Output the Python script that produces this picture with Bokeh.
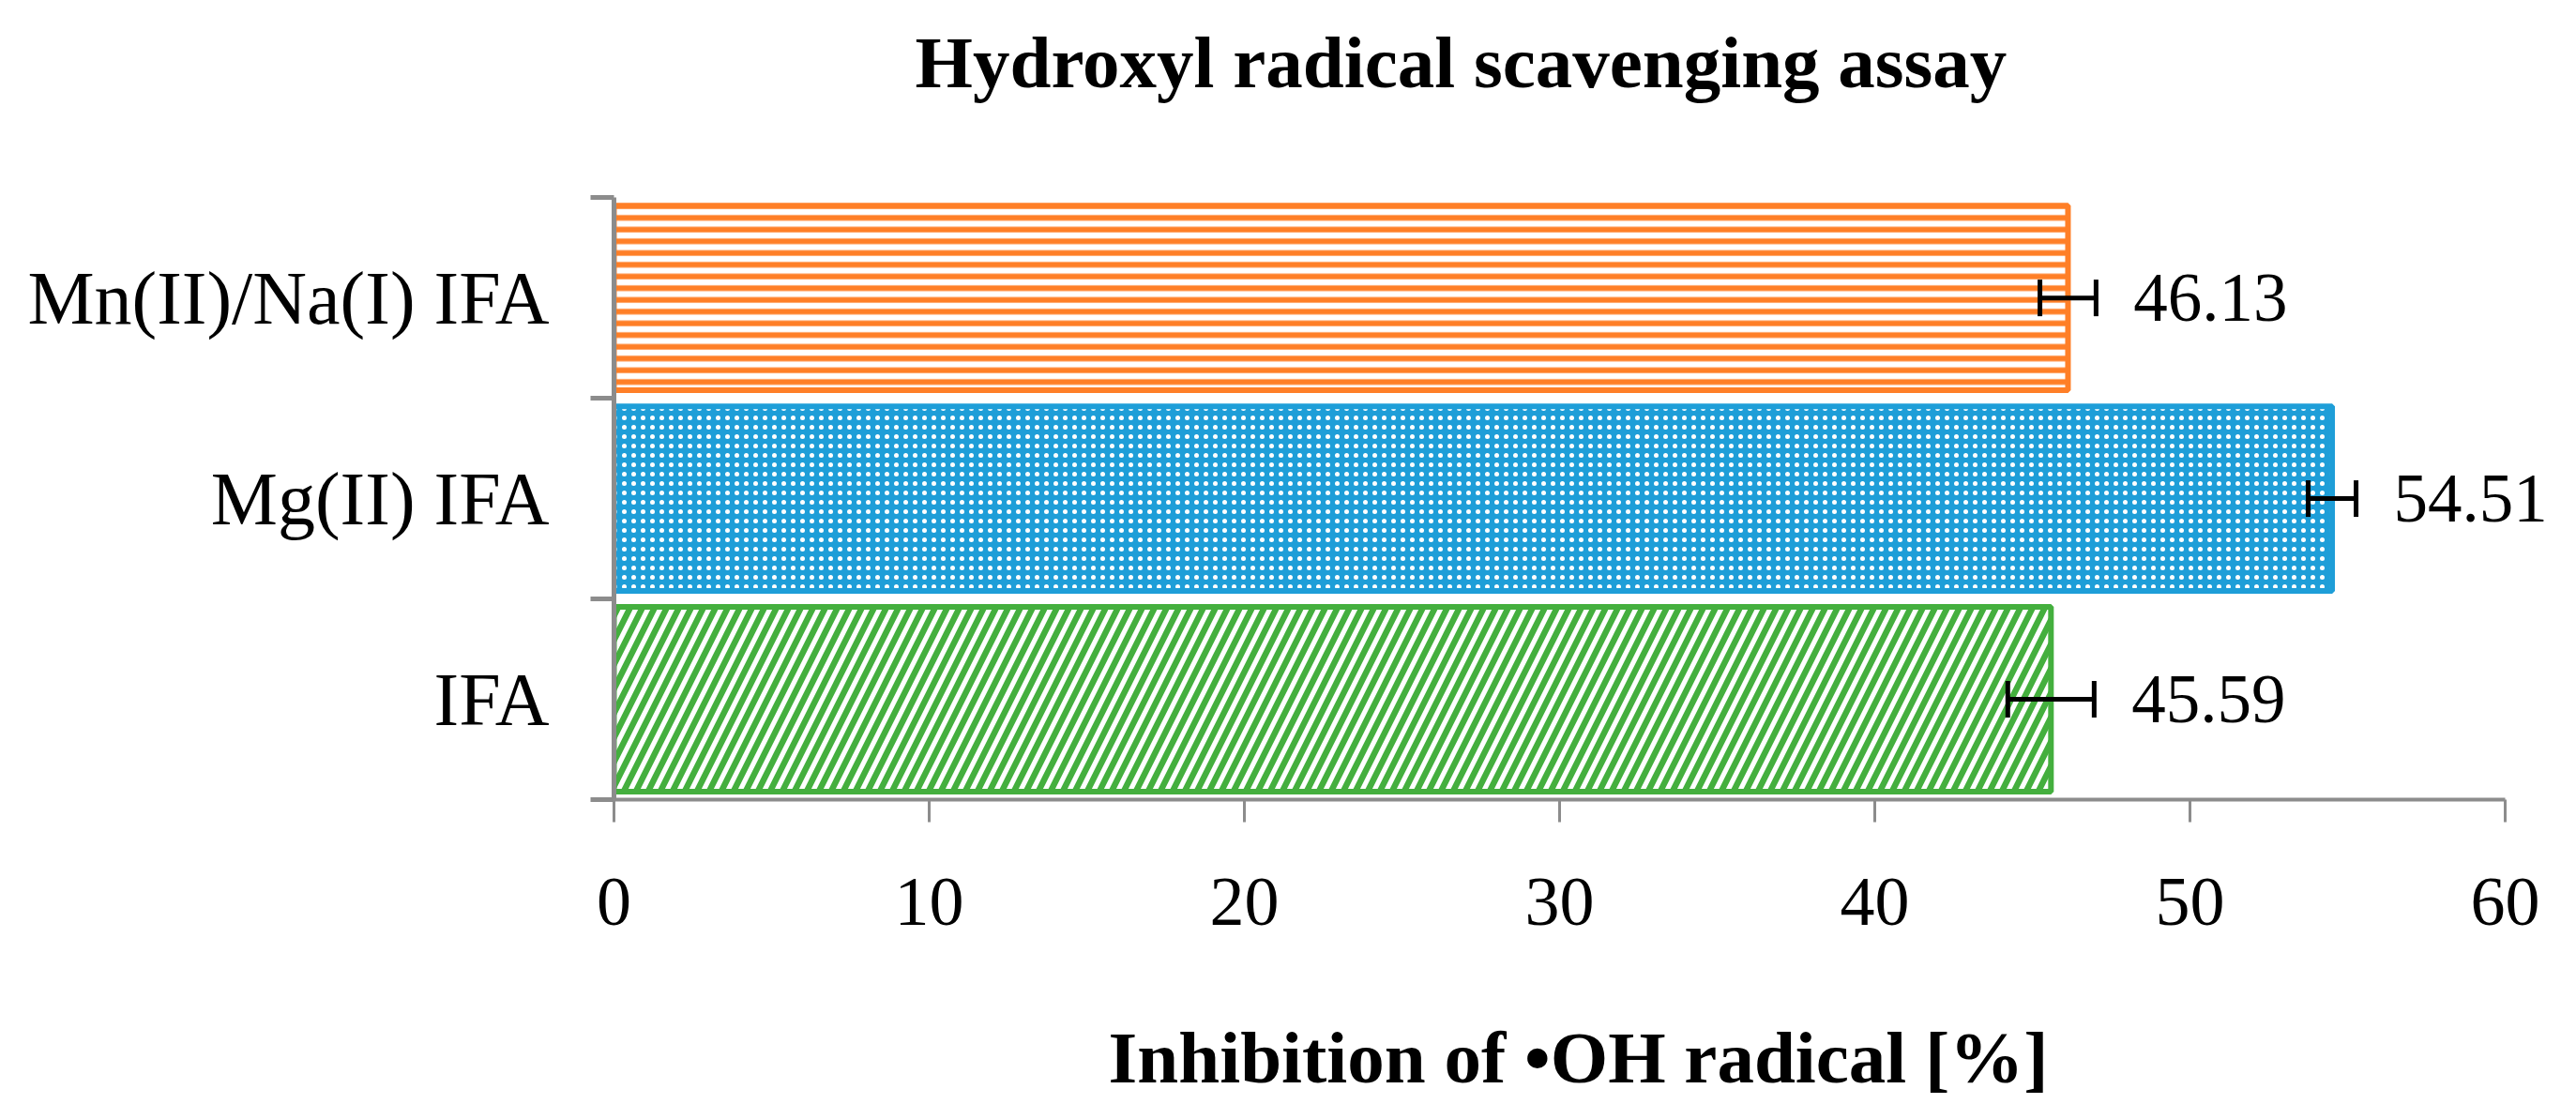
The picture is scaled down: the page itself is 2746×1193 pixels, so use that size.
from bokeh.plotting import figure
from bokeh.models import ColumnDataSource, FixedTicker, LabelSet, Whisker, TeeHead, Range1d
from bokeh.core.properties import value
from bokeh.embed import file_html
from bokeh.resources import INLINE

# ---- data (bottom to top) ----
categories = ["IFA", "Mg(II) IFA", "Mn(II)/Na(I) IFA"]
values = [45.59, 54.51, 46.13]
errors = [1.37, 0.76, 0.89]
value_labels = ["45.59", "54.51", "46.13"]
x_ticks = [0, 10, 20, 30, 40, 50, 60]
title_text = "Hydroxyl radical scavenging assay"
x_title = "Inhibition of  \u2022OH radical [%]"

# ---- styles ----
bar_colors = ["#44AF3E", "#1E9ED8", "#FF7F27"]
bar_fill = ["white", "#1E9ED8", "white"]
bar_hatch_color = ["#44AF3E", "white", "#FF7F27"]
bar_patterns = ["right_diagonal_line", "dot", "horizontal_line"]
bar_hatch_scale = [26, 10, 12.5]
bar_hatch_weight = [6.5, 1.5, 6]

FONT = "Liberation Serif"
GRAY = "#8C8C8C"

ys = [i + 0.5 for i in range(len(categories))]
n = len(categories)

FIG_W = 2730
FIG_H = 1177
FRAME_LEFT = 654
FRAME_TOP = 126          # frame extends above the axis so the title can sit higher
AXIS_TOP = 203           # where the y axis (category 3) ends
BORDER_BOTTOM = 325
X_END = 60 * (FIG_W - FRAME_LEFT) / 2016.0          # 0..60 spans 2016 px
Y_END = n * (FIG_H - FRAME_TOP - BORDER_BOTTOM) / (FIG_H - AXIS_TOP - BORDER_BOTTOM)

p = figure(width=FIG_W, height=FIG_H, output_backend="svg", toolbar_location=None,
           x_range=Range1d(0, X_END), y_range=Range1d(0, Y_END),
           min_border_left=FRAME_LEFT, min_border_right=0,
           min_border_top=FRAME_TOP, min_border_bottom=BORDER_BOTTOM)
p.outline_line_color = None
p.xgrid.visible = False
p.ygrid.visible = False
p.background_fill_color = "white"

for i in range(n):
    src = ColumnDataSource(dict(y=[ys[i]], right=[values[i]]))
    p.hbar(y="y", right="right", left=0, height=0.92, source=src,
           fill_color=bar_fill[i], line_color=bar_colors[i], line_width=6,
           hatch_pattern=bar_patterns[i], hatch_color=bar_hatch_color[i],
           hatch_scale=bar_hatch_scale[i], hatch_weight=bar_hatch_weight[i])

err_src = ColumnDataSource(dict(
    y=ys,
    lower=[v - e for v, e in zip(values, errors)],
    upper=[v + e for v, e in zip(values, errors)],
    label=value_labels,
))
wh = Whisker(source=err_src, base="y", lower="lower", upper="upper", dimension="width",
             line_color="black", line_width=5, level="annotation",
             upper_head=TeeHead(size=39, line_width=5, line_color="black"),
             lower_head=TeeHead(size=39, line_width=5, line_color="black"))
p.add_layout(wh)

labels = LabelSet(source=err_src, x="upper", y="y", text="label", x_offset=40,
                  text_baseline="middle", text_align="left",
                  text_font=value(FONT), text_font_size=value("73px"), text_color="black")
p.add_layout(labels)

# x axis
xa = p.xaxis[0]
xa.bounds = (0, 60)
xa.ticker = FixedTicker(ticks=x_ticks, minor_ticks=[])
xa.axis_line_color = GRAY
xa.axis_line_width = 4
xa.major_tick_line_color = GRAY
xa.major_tick_line_width = 3
xa.major_tick_out = 24
xa.major_tick_in = 0
xa.minor_tick_line_color = None
xa.major_label_text_font = FONT
xa.major_label_text_font_size = "74px"
xa.major_label_text_color = "black"
xa.major_label_standoff = 60
xa.axis_label = x_title
xa.axis_label_text_font = FONT
xa.axis_label_text_font_style = "bold"
xa.axis_label_text_font_size = "79px"
xa.axis_label_text_color = "black"
xa.axis_label_standoff = 95

# y axis
ya = p.yaxis[0]
ya.bounds = (0, n)
ya.ticker = FixedTicker(ticks=ys, minor_ticks=[float(i) for i in range(n + 1)])
ya.major_label_overrides = {ys[i]: categories[i] for i in range(n)}
ya.axis_line_color = GRAY
ya.axis_line_width = 5
ya.major_tick_line_color = None
ya.major_tick_out = 0
ya.major_tick_in = 0
ya.minor_tick_line_color = GRAY
ya.minor_tick_line_width = 5
ya.minor_tick_out = 25
ya.minor_tick_in = 0
ya.major_label_text_font = FONT
ya.major_label_text_font_size = "80px"
ya.major_label_text_color = "black"
ya.major_label_standoff = 44

# title
p.title.text = title_text
p.title.text_font = FONT
p.title.text_font_style = "bold"
p.title.text_font_size = "79px"
p.title.text_color = "black"
p.title.align = "left"
p.title.vertical_align = "top"
p.title.offset = 321
p.title.standoff = 45

open("out.html", "w").write(file_html(p, INLINE))
